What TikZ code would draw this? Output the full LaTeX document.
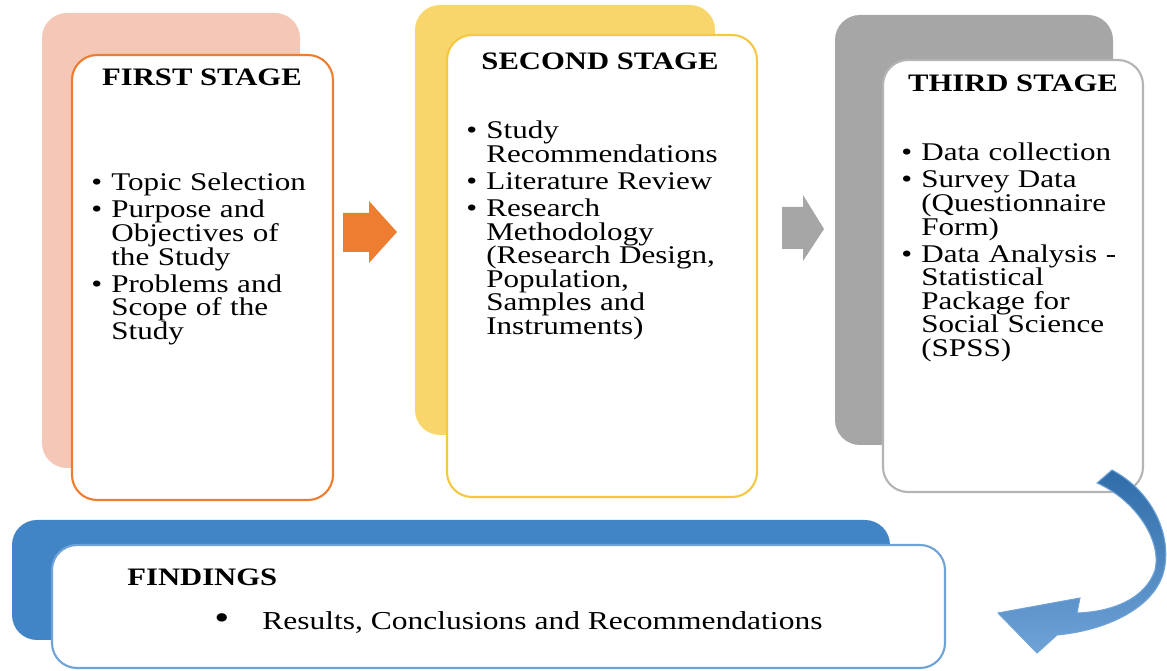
\documentclass[tikz,border=0pt]{standalone}
\usepackage{fontspec}
\setmainfont{Liberation Serif}[FakeStretch=1.22]
\usepackage{xcolor}
\usepackage{tikz}
\usetikzlibrary{positioning}

\definecolor{pinkback}{HTML}{F5C7B7}
\definecolor{orangeline}{HTML}{ED7D31}
\definecolor{yellowback}{HTML}{F9D66B}
\definecolor{yellowline}{HTML}{F5C842}
\definecolor{grayback}{HTML}{A6A6A6}
\definecolor{grayline}{HTML}{B4B4B4}
\definecolor{blueback}{HTML}{4285C6}
\definecolor{blueline}{HTML}{6FA3D8}
\definecolor{bluedark}{HTML}{2F6CA8}

\newcommand{\stageitem}[1]{\par\hangindent=0.4cm\hangafter=1\noindent\makebox[0.4cm][l]{\textbullet}#1\par\vspace{2pt}}

\begin{document}
\begin{tikzpicture}[x=0.02cm,y=-0.02cm,
    backbox/.style={rounded corners=0.5cm},
    frontbox/.style={fill=white, rounded corners=0.5cm, line width=1.2pt},
    heading/.style={font=\fontsize{14.3}{16}\selectfont\bfseries, inner sep=0pt},
    itemlist/.style={anchor=north west, inner sep=0pt, text width=6cm, align=left, font=\fontsize{14.5}{13.4}\selectfont}]

        \useasboundingbox (0,0) rectangle (1167,671);

        % Back boxes
        \fill[pinkback, backbox] (42,13) rectangle (300,468);
        \fill[yellowback, backbox] (415,5) rectangle (715,435);
        \fill[grayback, backbox] (835,15) rectangle (1113,445);
        \fill[blueback, backbox] (12,520) rectangle (890,640);

        % Front boxes
        \draw[orangeline, frontbox] (72,55) rectangle (333,500);
        \draw[yellowline, frontbox] (447,35) rectangle (757,497);
        \draw[grayline, frontbox] (883,60) rectangle (1143,492);
        \draw[blueline, frontbox] (52,545) rectangle (945,668);

        % Block arrows
        \fill[orangeline] (343,213) -- (369,213) -- (369,201) -- (397,232) -- (369,263) -- (369,252) -- (343,252) -- cycle;
        \fill[grayback] (782,207) -- (803,207) -- (803,195) -- (824,229) -- (803,261) -- (803,249) -- (782,249) -- cycle;

        % Curved arrow
        \shade[top color=bluedark, bottom color=blueline, draw=blueline, line width=0.6pt]
            (1112,470) .. controls (1150,490) and (1170,530) .. (1165,565)
            .. controls (1160,605) and (1110,630) .. (1057,635)
            -- (1037,653) -- (998,613) -- (1080,598) -- (1077,613)
            .. controls (1110,612) and (1145,600) .. (1155,570)
            .. controls (1162,540) and (1135,500) .. (1097,483) -- cycle;

        % Headings
        \node[heading] (firsthead) at (202,77) {FIRST STAGE};
        \node[heading] (secondhead) at (600,61) {SECOND STAGE};
        \node[heading] (thirdhead) at (1013,83) {THIRD STAGE};
        \node[heading, anchor=west] (findhead) at (127,577) {FINDINGS};

        % Lists
        \node[itemlist] (firstlist) at (91,167) {%
            \stageitem{Topic Selection}%
            \stageitem{Purpose and\break Objectives of\break the Study}%
            \stageitem{Problems and\break Scope of the\break Study}};
        \node[itemlist] (secondlist) at (466,115) {%
            \stageitem{Study\break Recommendations}%
            \stageitem{Literature Review}%
            \stageitem{Research\break Methodology\break (Research Design,\break Population,\break Samples and\break Instruments)}};
        \node[itemlist] (thirdlist) at (901,137) {%
            \stageitem{Data collection}%
            \stageitem{Survey Data\break (Questionnaire\break Form)}%
            \stageitem{Data Analysis -\break Statistical\break Package for\break Social Science\break (SPSS)}};

        % Findings
        \node[font=\fontsize{20}{20}\selectfont, inner sep=0pt] (findbullet) at (222,622) {\textbullet};
        \node[font=\fontsize{14.7}{16}\selectfont, anchor=base west, inner sep=0pt] (findtext) at (262,630) {Results, Conclusions and Recommendations};

\end{tikzpicture}
\end{document}
